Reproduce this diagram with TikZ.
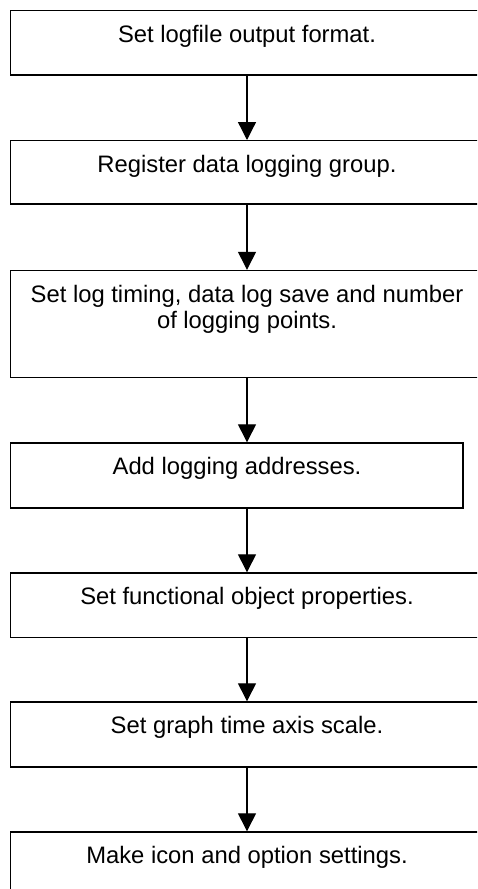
\documentclass[tikz,border=0pt]{standalone}
\usepackage{fontspec}
\setmainfont{Liberation Sans}
\usetikzlibrary{arrows.meta}

\begin{document}
\begin{tikzpicture}[x=1pt,y=-1pt,
  stepbox/.style={draw=black,line width=1.4pt,minimum width=472.6pt,inner sep=0pt},
  steptext/.style={anchor=base,align=center,inner sep=0pt,
   font=\fontsize{23.8}{26.7}\selectfont},
  flow/.style={->,>={Triangle[length=18pt,width=18pt]},line width=1.3pt}]
  \useasboundingbox (0,0) rectangle (477,889);
  \clip (0,0) rectangle (477,889);
  % boxes
  \node[stepbox,minimum height=64.3pt] (fmt) at (247,42.85) {};
  \node[stepbox,minimum height=63.3pt] (grp) at (247,172.35) {};
  \node[stepbox,minimum height=107.2pt] (tim) at (247,324.1) {};
  \node[stepbox,minimum height=65pt,minimum width=452.3pt] (adr) at (236.85,475.5) {};
  \node[stepbox,minimum height=64.7pt] (obj) at (247,605.35) {};
  \node[stepbox,minimum height=65pt] (scl) at (247,734.5) {};
  \node[stepbox,minimum height=65pt] (icn) at (247,864.5) {};
  % texts
  \node[steptext] (fmt-t) at (247,42.2) {Set logfile output format.};
  \node[steptext] (grp-t) at (247,172.2) {Register data logging group.};
  \node[steptext] (tim-t) at (247,328.7) {Set log timing, data log save and number\\of logging points.};
  \node[steptext] (adr-t) at (237,474.5) {Add logging addresses.};
  \node[steptext] (obj-t) at (247,604.5) {Set functional object properties.};
  \node[steptext] (scl-t) at (247,733.5) {Set graph time axis scale.};
  \node[steptext] (icn-t) at (247,863.5) {Make icon and option settings.};
  % arrows
  \draw[flow] (fmt.south) -- (grp.north);
  \draw[flow] (grp.south) -- (tim.north);
  \draw[flow] (tim.south) -- (tim.south |- adr.north);
  \draw[flow] (adr.south -| obj.north) -- (obj.north);
  \draw[flow] (obj.south) -- (scl.north);
  \draw[flow] (scl.south) -- (icn.north);
\end{tikzpicture}
\end{document}
